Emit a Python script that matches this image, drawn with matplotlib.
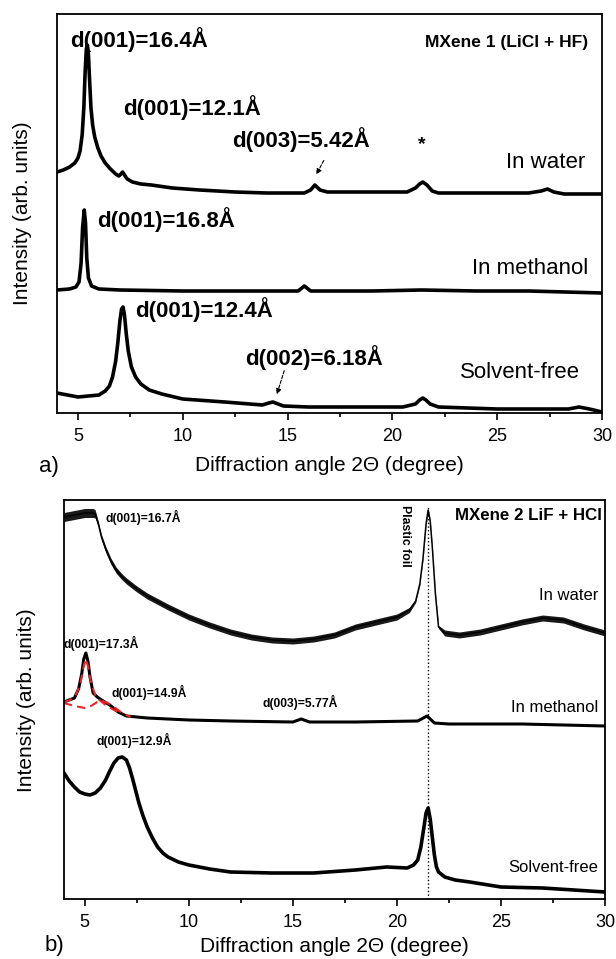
import matplotlib
matplotlib.use('Agg')
import matplotlib.pyplot as plt
from matplotlib.ticker import MultipleLocator

plt.rcParams['font.family'] = ['Liberation Sans', 'DejaVu Sans']

# ---- panel a) MXene 1 (LiCl + HF), intensity in arbitrary offset units ----
water_a_x = [4.0, 4.3, 4.6, 4.85, 5.0, 5.1, 5.2, 5.28, 5.34, 5.4, 5.45, 5.5, 5.55, 5.62, 5.7,
             5.8, 5.95, 6.1, 6.3, 6.55, 6.8, 6.95, 7.05, 7.13, 7.22, 7.35, 7.6, 8.0, 8.5, 9.5,
             10.8, 12.5, 14.0, 15.8, 16.1, 16.3, 16.55, 16.9, 19.0, 20.7, 21.1, 21.3, 21.45,
             21.65, 21.9, 22.2, 24.0, 26.5, 27.1, 27.4, 27.7, 28.2, 30.0]
water_a_y = [241, 243, 246, 250, 255, 262, 278, 305, 340, 364, 368, 358, 335, 305, 288,
             276, 265, 257, 250, 244, 239, 237, 239, 241, 238, 234, 231, 229, 228, 225,
             223, 221, 220, 220, 223, 228, 223, 221, 221, 221, 225, 229, 231,
             228, 222, 220, 220, 220, 222, 224, 221, 219, 219]

meoh_a_x = [4.0, 4.6, 4.9, 5.05, 5.15, 5.22, 5.3, 5.36, 5.42, 5.5, 5.65, 6.0, 7.0, 10.0, 15.5,
            15.8, 16.1, 19.0, 21.4, 24.0, 26.5, 30.0]
meoh_a_y = [123, 124, 126, 131, 150, 185, 203, 190, 155, 135, 127, 124, 123, 122, 122,
            127, 122, 122, 123, 122, 122, 120]

dry_a_x = [4.0, 5.0, 6.0, 6.3, 6.5, 6.65, 6.8, 6.9, 7.0, 7.08, 7.15, 7.22, 7.3, 7.4, 7.55,
           7.75, 8.0, 8.4, 9.0, 10.0, 12.0, 13.8, 14.1, 14.3, 14.55, 14.8, 16.0, 20.5, 21.1,
           21.3, 21.45, 21.6, 21.8, 22.2, 25.0, 28.4, 28.9, 29.4, 30.0]
dry_a_y = [20, 16, 18, 22, 27, 36, 52, 70, 92, 104, 106, 98, 80, 62, 46,
           36, 29, 23, 19, 14, 11, 8, 10, 11, 9, 7, 6, 6, 9,
           13, 15, 13, 9, 6, 4, 4, 6, 4, 1]

# ---- panel b) MXene 2 LiF + HCl ----
water_b_x = [4.0, 4.5, 5.0, 5.4, 5.5, 5.65, 5.8, 6.0, 6.25, 6.5, 6.75, 7.0, 7.5, 8.0, 9.0, 10.0,
             11.0, 12.0, 13.0, 14.0, 15.0, 16.0, 17.0, 18.0, 19.0, 20.0, 20.6, 20.9, 21.1,
             21.25, 21.4, 21.5, 21.6, 21.7, 21.85, 22.0, 22.3, 23.0, 24.0, 25.0, 26.0, 27.0,
             28.0, 29.0, 30.0]
water_b_y = [382, 384, 386, 386, 385, 375, 362, 350, 338, 329, 323, 318, 310, 303, 292, 282,
             274, 267, 262, 259, 258, 260, 264, 272, 277, 282, 289, 298, 315,
             340, 375, 389, 378, 352, 305, 272, 266, 264, 267, 272, 277, 281,
             279, 272, 266]
water_b_noise = [9, 9, 9, 9, 8, 5, 5, 6, 6, 6, 6, 6, 6, 6, 6, 6,
                 6, 6, 6, 6, 6, 6, 6, 6, 6, 6, 5, 3, 2,
                 2, 2, 2, 2, 2, 2, 3, 6, 6, 6, 6, 6, 6,
                 6, 6, 6]

meoh_b_x = [4.0, 4.5, 4.7, 4.85, 4.95, 5.05, 5.15, 5.25, 5.4, 5.6, 5.8, 6.2, 6.6, 7.0, 8.0,
            10.0, 12.0, 15.0, 15.4, 15.8, 18.0, 21.0, 21.45, 21.8, 22.5, 26.0, 30.0]
meoh_b_y = [197, 201, 210, 225, 240, 246, 238, 222, 206, 202, 199, 194, 187, 183, 181,
            179, 178, 177, 180, 177, 177, 178, 183, 176, 175, 175, 173]

fit1_x = [4.0, 4.3, 4.6, 4.8, 4.95, 5.05, 5.15, 5.3, 5.5, 5.7, 6.0, 6.4, 6.8]
fit1_y = [197, 199, 205, 217, 233, 240, 233, 216, 204, 199, 194, 189, 185]
fit2_x = [4.0, 4.5, 5.0, 5.3, 5.6, 5.85, 6.1, 6.4, 6.8, 7.2]
fit2_y = [196, 193, 191, 193, 197, 198, 196, 192, 186, 182]

dry_b_x = [4.0, 4.25, 4.5, 4.75, 5.0, 5.25, 5.5, 5.75, 6.0, 6.2, 6.4, 6.6, 6.8, 7.0, 7.15,
           7.3, 7.45, 7.6, 7.8, 8.0, 8.25, 8.5, 8.75, 9.0, 9.5, 10.0, 11.0, 12.0, 14.0, 16.0,
           18.0, 19.5, 20.5, 20.8, 21.0, 21.15, 21.3, 21.4, 21.5, 21.6, 21.7, 21.8, 21.9, 22.0,
           22.3, 22.8, 23.5, 25.0, 27.0, 30.0]
dry_b_y = [126, 118, 112, 107, 105, 104, 106, 111, 119, 128, 136, 141, 142, 139, 131,
           120, 108, 96, 83, 72, 61, 52, 46, 42, 37, 34, 30, 27, 26, 26,
           29, 32, 31, 34, 39, 52, 72, 86, 91, 80, 62, 44, 32, 27,
           22, 19, 17, 12, 11, 7]

foil_pos = 21.5


def style_axes(ax, pad):
    ax.set_xlim(4, 30)
    ax.set_ylim(0, 399)
    ax.set_yticks([])
    ax.xaxis.set_major_locator(MultipleLocator(5))
    ax.xaxis.set_minor_locator(MultipleLocator(2.5))
    ax.tick_params(axis='x', which='major', direction='out', length=5, width=1.2,
                   labelsize=13, pad=6)
    ax.tick_params(axis='x', which='minor', direction='out', length=3, width=1.2)
    for s in ax.spines.values():
        s.set_linewidth(1.3)
    ax.set_xlabel('Diffraction angle 2\u0398 (degree)', fontsize=15, labelpad=pad)


fig = plt.figure(figsize=(6.16, 9.59), dpi=100)
W, H = 616, 959
ax1 = fig.add_axes([57 / W, 1 - 413 / H, 545 / W, 399 / H])
ax2 = fig.add_axes([64 / W, 1 - 899 / H, 541 / W, 399 / H])

# panel a
for xs, ys in [(water_a_x, water_a_y), (meoh_a_x, meoh_a_y), (dry_a_x, dry_a_y)]:
    ax1.plot(xs, ys, color='black', lw=2.6, solid_joinstyle='round')
style_axes(ax1, 8)

bold = dict(fontsize=16, fontweight='bold', va='center')
ax1.text(4.62, 373, 'd(001)=16.4\u00c5', ha='left', **bold)
ax1.text(7.15, 305, 'd(001)=12.1\u00c5', ha='left', **bold)
ax1.text(12.35, 273, 'd(003)=5.42\u00c5', ha='left', **bold)
ax1.text(5.91, 193, 'd(001)=16.8\u00c5', ha='left', **bold)
ax1.text(7.72, 103, 'd(001)=12.4\u00c5', ha='left', **bold)
ax1.text(12.97, 55, 'd(002)=6.18\u00c5', ha='left', **bold)
ax1.text(21.41, 268, '*', ha='center', va='center', fontsize=14, fontweight='bold')
ax1.text(29.33, 371, 'MXene 1 (LiCl + HF)', ha='right', va='center', fontsize=12.5,
         fontweight='bold')
ax1.text(29.19, 250, 'In water', ha='right', va='center', fontsize=16)
ax1.text(29.33, 145, 'In methanol', ha='right', va='center', fontsize=16)
ax1.text(28.95, 40, 'Solvent-free', ha='right', va='center', fontsize=16)
arrow = dict(arrowstyle='-|>', color='black', lw=0.8, mutation_scale=8, linestyle=(0, (3, 1.5)))
ax1.annotate('', xy=(16.31, 236), xytext=(16.79, 255), arrowprops=arrow)
ax1.annotate('', xy=(14.45, 16), xytext=(14.88, 45), arrowprops=arrow)

# panel b
ax2.axvline(foil_pos, ymax=0.985, color='black', ls=':', lw=1)
lo = [y - n / 2 for y, n in zip(water_b_y, water_b_noise)]
hi = [y + n / 2 for y, n in zip(water_b_y, water_b_noise)]
ax2.fill_between(water_b_x, lo, hi, color='#1a1a1a', lw=0)
ax2.plot(water_b_x, water_b_y, color='black', lw=1.1)
ax2.plot(meoh_b_x, meoh_b_y, color='black', lw=2.2, solid_joinstyle='round')
ax2.plot(fit1_x, fit1_y, color='#e8262a', lw=1.5, ls=(0, (4, 2.5)))
ax2.plot(fit2_x, fit2_y, color='#e8262a', lw=1.5, ls=(0, (4, 2.5)))
ax2.plot(dry_b_x, dry_b_y, color='black', lw=2.6, solid_joinstyle='round')
style_axes(ax2, 4)

small = dict(fontsize=8.7, fontweight='bold', va='center', ha='left')
ax2.text(6.01, 382, 'd(001)=16.7\u00c5', **small)
ax2.text(3.97, 256, 'd(001)=17.3\u00c5', **small)
ax2.text(6.30, 207, 'd(001)=14.9\u00c5', **small)
ax2.text(13.56, 197, 'd(003)=5.77\u00c5', **small)
ax2.text(5.58, 159, 'd(001)=12.9\u00c5', **small)
ax2.text(29.86, 384, 'MXene 2 LiF + HCl', ha='right', va='center', fontsize=12.2,
         fontweight='bold')
ax2.text(20.38, 363, 'Plastic foil', rotation=270, ha='center', va='center', fontsize=8.8,
         fontweight='bold')
ax2.text(29.66, 303, 'In water', ha='right', va='center', fontsize=12)
ax2.text(29.66, 191, 'In methanol', ha='right', va='center', fontsize=12)
ax2.text(29.66, 31, 'Solvent-free', ha='right', va='center', fontsize=12)

fig.text(23 / W, 1 - 213 / H, 'Intensity (arb. units)', rotation=90, ha='center', va='center',
         fontsize=15)
fig.text(27 / W, 1 - 700 / H, 'Intensity (arb. units)', rotation=90, ha='center', va='center',
         fontsize=15)
fig.text(49 / W, 1 - 466 / H, 'a)', ha='center', va='center', fontsize=16)
fig.text(54 / W, 1 - 945 / H, 'b)', ha='center', va='center', fontsize=16)

fig.savefig('out.png', dpi=100)
